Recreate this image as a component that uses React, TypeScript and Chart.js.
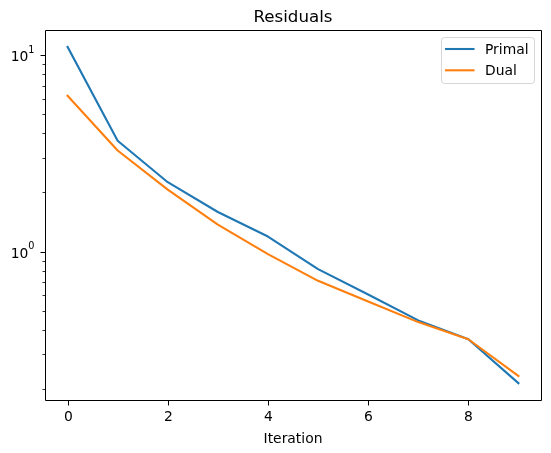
import React, { useEffect, useRef } from 'react';
import { Chart, registerables } from 'chart.js';

Chart.register(...registerables);

const iterations = [0, 1, 2, 3, 4, 5, 6, 7, 8, 9];
const primal = [11.1, 3.69, 2.27, 1.6, 1.2, 0.819, 0.608, 0.449, 0.36, 0.215];
const dual = [6.25, 3.29, 2.08, 1.38, 0.977, 0.714, 0.56, 0.44, 0.36, 0.234];
const seriesNames = ['Primal', 'Dual'];
const seriesColors = ['#1f77b4', '#ff7f0e'];
const xTickValues = [0, 2, 4, 6, 8];
const yMajorTicks = [1, 10];
const yMinorTicks = [0.2, 0.3, 0.4, 0.5, 0.6, 0.7, 0.8, 0.9, 2, 3, 4, 5, 6, 7, 8, 9];
const titleText = 'Residuals';
const xAxisTitle = 'Iteration';

const FONT = '"DejaVu Sans", "Liberation Sans", sans-serif';
const W = 551;
const H = 453;

function logLimits(values: number[]) {
  const logs = values.map((v) => Math.log10(v));
  const lo = Math.min(...logs);
  const hi = Math.max(...logs);
  const m = (hi - lo) * 0.05;
  return { min: Math.pow(10, lo - m), max: Math.pow(10, hi + m) };
}

function xLimits(values: number[]) {
  const lo = Math.min(...values);
  const hi = Math.max(...values);
  const m = (hi - lo) * 0.05;
  return { min: lo - m, max: hi + m };
}

const mplPlugin = {
  id: 'mplDecor',
  afterDraw(chart: any) {
    const ctx: CanvasRenderingContext2D = chart.ctx;
    const area = chart.chartArea;
    const xs = chart.scales.x;
    const ys = chart.scales.y;
    ctx.save();
    const L = Math.round(area.left) + 0.5;
    const T = Math.round(area.top) + 0.5;
    const R = Math.round(area.right) + 0.5;
    const B = Math.round(area.bottom) + 0.5;

    // spines
    ctx.strokeStyle = '#000';
    ctx.lineWidth = 1;
    ctx.beginPath();
    ctx.rect(L, T, R - L, B - T);
    ctx.stroke();

    // x ticks + labels
    ctx.fillStyle = '#000';
    ctx.font = `13.89px ${FONT}`;
    ctx.textAlign = 'center';
    ctx.textBaseline = 'alphabetic';
    for (const t of xs.ticks) {
      const px = Math.floor(xs.getPixelForValue(t.value) + 0.5) + 0.5;
      ctx.beginPath();
      ctx.moveTo(px, B);
      ctx.lineTo(px, B + 5);
      ctx.stroke();
      ctx.fillText(String(t.value), px, 421);
    }

    // y ticks
    for (const t of ys.ticks) {
      const v = t.value;
      const py = ys.getPixelForValue(v);
      if (py < area.top - 0.5 || py > area.bottom + 0.5) continue;
      const yy = Math.floor(py) + 0.5;
      ctx.beginPath();
      if (t.major) {
        ctx.lineWidth = 1;
        ctx.moveTo(L, yy);
        ctx.lineTo(L - 5, yy);
      } else {
        ctx.lineWidth = 0.8;
        ctx.moveTo(L, yy);
        ctx.lineTo(L - 3, yy);
      }
      ctx.stroke();
      if (t.major) {
        const exp = String(Math.round(Math.log10(v)));
        ctx.textAlign = 'left';
        ctx.font = `13.89px ${FONT}`;
        const wb = ctx.measureText('10').width;
        ctx.font = `9.72px ${FONT}`;
        const we = ctx.measureText(exp).width;
        const x0 = 34.5 - wb - we;
        ctx.font = `13.89px ${FONT}`;
        ctx.fillText('10', x0, py + 5.5);
        ctx.font = `9.72px ${FONT}`;
        ctx.fillText(exp, x0 + wb, py - 3);
      }
    }

    // title & axis label
    const cx = (area.left + area.right) / 2;
    ctx.textAlign = 'center';
    ctx.font = `16.67px ${FONT}`;
    ctx.fillText(titleText, cx, 22);
    ctx.font = `13.89px ${FONT}`;
    ctx.fillText(xAxisTitle, cx, 443);

    // legend
    const bx = 441.5, by = 37.5, bw = 93, bh = 46;
    ctx.beginPath();
    (ctx as any).roundRect(bx, by, bw, bh, 3);
    ctx.fillStyle = 'rgba(255,255,255,0.8)';
    ctx.fill();
    ctx.strokeStyle = 'rgba(204,204,204,0.8)';
    ctx.lineWidth = 1;
    ctx.stroke();
    ctx.textAlign = 'left';
    ctx.font = `13.89px ${FONT}`;
    seriesNames.forEach((name, i) => {
      const ly = 49 + i * 21.3;
      ctx.strokeStyle = seriesColors[i];
      ctx.lineWidth = 2.08;
      ctx.lineCap = 'square';
      ctx.beginPath();
      ctx.moveTo(446, ly);
      ctx.lineTo(473.5, ly);
      ctx.stroke();
      ctx.fillStyle = '#000';
      ctx.fillText(name, 485, ly + 5);
    });
    ctx.restore();
  },
};

export default function App() {
  const ref = useRef<HTMLCanvasElement | null>(null);

  useEffect(() => {
    if (!ref.current) return;
    const yl = logLimits([...primal, ...dual]);
    const xl = xLimits(iterations);
    const chart = new Chart(ref.current, {
      type: 'line',
      data: {
        datasets: [
          {
            label: seriesNames[0],
            data: iterations.map((x, i) => ({ x, y: primal[i] })),
            borderColor: seriesColors[0],
            backgroundColor: seriesColors[0],
            borderWidth: 2.08,
            pointRadius: 0,
            tension: 0,
            fill: false,
            borderCapStyle: 'square',
            borderJoinStyle: 'round',
            order: 1,
          },
          {
            label: seriesNames[1],
            data: iterations.map((x, i) => ({ x, y: dual[i] })),
            borderColor: seriesColors[1],
            backgroundColor: seriesColors[1],
            borderWidth: 2.08,
            pointRadius: 0,
            tension: 0,
            fill: false,
            borderCapStyle: 'square',
            borderJoinStyle: 'round',
            order: 0,
          },
        ],
      },
      options: {
        animation: false,
        responsive: false,
        devicePixelRatio: 1,
        layout: { padding: { top: 30, right: 10, left: 0, bottom: 0 } },
        plugins: {
          legend: { display: false },
          title: { display: false },
          tooltip: { enabled: false },
        },
        scales: {
          x: {
            type: 'linear',
            min: xl.min,
            max: xl.max,
            bounds: 'data',
            grid: { display: false },
            border: { display: false },
            ticks: { display: false },
            afterBuildTicks: (s: any) => {
              s.ticks = xTickValues.map((v) => ({ value: v }));
            },
            afterFit: (s: any) => {
              s.height = 53;
            },
          },
          y: {
            type: 'logarithmic',
            min: yl.min,
            max: yl.max,
            bounds: 'data',
            grid: { display: false },
            border: { display: false },
            ticks: { display: false },
            afterBuildTicks: (s: any) => {
              const all = [
                ...yMinorTicks.map((v) => ({ value: v, major: false })),
                ...yMajorTicks.map((v) => ({ value: v, major: true })),
              ].sort((a, b) => a.value - b.value);
              s.ticks = all;
            },
            afterFit: (s: any) => {
              s.width = 45;
            },
          },
        },
      },
      plugins: [mplPlugin],
    } as any);
    return () => chart.destroy();
  }, []);

  return (
    <div style={{ position: 'fixed', left: 0, top: 0, width: W, height: H, background: '#fff' }}>
      <canvas ref={ref} width={W} height={H} style={{ display: 'block', width: W, height: H }} />
    </div>
  );
}
